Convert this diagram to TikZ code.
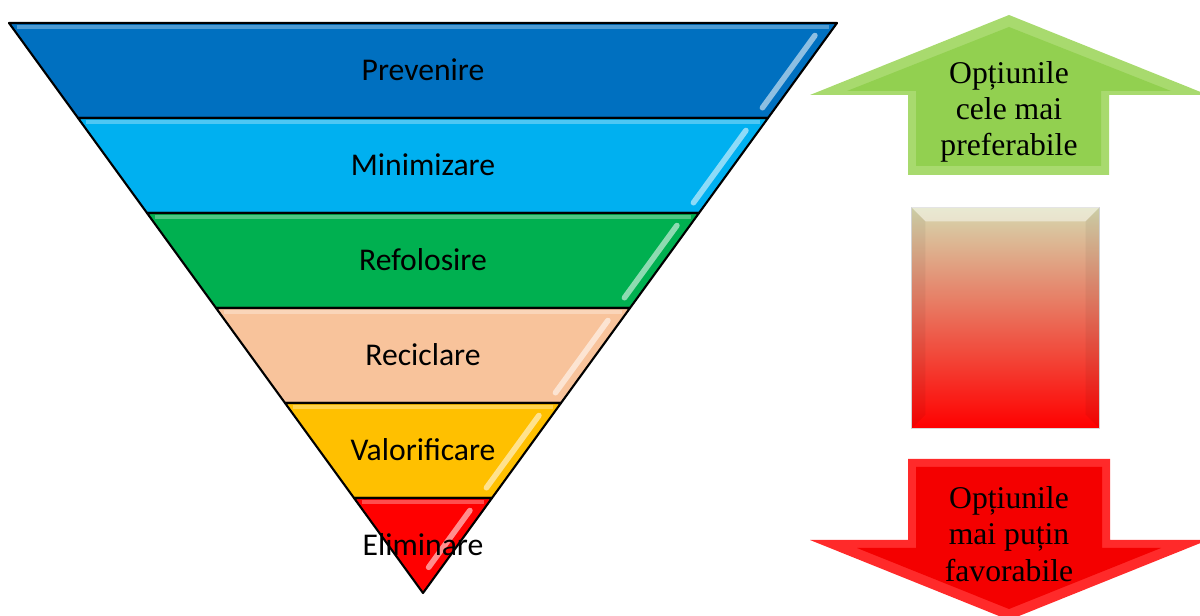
\documentclass[tikz,border=0pt]{standalone}
\usepackage{fontspec}
\setmainfont{Liberation Serif}
\newfontfamily\bandfont{Carlito}
\usetikzlibrary{calc}

\definecolor{prevcol}{HTML}{0070C0}
\definecolor{mincol}{HTML}{00B0F0}
\definecolor{refcol}{HTML}{00B050}
\definecolor{reccol}{HTML}{F8C39B}
\definecolor{valcol}{HTML}{FFC000}
\definecolor{elimcol}{HTML}{FF0000}
\definecolor{upface}{HTML}{92D050}
\definecolor{upedge}{HTML}{A8DA6E}
\definecolor{downface}{HTML}{F40000}
\definecolor{downedge}{HTML}{FF2A2A}
\definecolor{scaletop}{HTML}{D6D8AE}
\definecolor{scalemid}{HTML}{C8896A}

\tikzset{
  band/.style={draw=black, line width=0.6pt, line join=round},
  gloss/.style={line width=1.6pt, line cap=round, opacity=0.85},
  sheen/.style={draw=white, line width=1pt, opacity=0.3},
  bandlabel/.style={font=\bandfont\fontsize{9}{11}\selectfont, anchor=base},
  choice/.style={font=\fontsize{9}{10.3}\selectfont, align=center, inner sep=0pt},
  scalebox/.style={minimum width=1.87cm, minimum height=2.2cm, inner sep=0pt,
    draw=black!15, line width=0.3pt,
    top color=scaletop, middle color=scalemid, bottom color=red}
}

\begin{document}
\begin{tikzpicture}[x=0.01cm, y=-0.01cm]
  \useasboundingbox (0,0) rectangle (1200,616);
  \coordinate (TL) at (9,23);
  \coordinate (TR) at (837,23);
  \coordinate (A) at (423,593);
  % hierarchy bands, top to bottom
  \foreach \txt/\col [count=\k from 0] in {Prevenire/prevcol, Minimizare/mincol,
      Refolosire/refcol, Reciclare/reccol, Valorificare/valcol, Eliminare/elimcol} {
    \pgfmathsetmacro\ta{\k/6}
    \pgfmathsetmacro\tb{(\k+1)/6}
    \pgfmathsetmacro\tgs{\ta+0.022}
    \pgfmathsetmacro\tge{\k<5 ? \tb-0.018 : 0.955}
    \pgfmathsetmacro\tsh{\ta+0.007}
    \pgfmathsetmacro\ly{23+95*(\k+0.5)+10}
    \draw[band, fill=\col] ($(TL)!\ta!(A)$) -- ($(TR)!\ta!(A)$)
      -- ($(TR)!\tb!(A)$) -- ($(TL)!\tb!(A)$) -- cycle;
    \draw[sheen] ($(TL)!\tsh!(A) + (5,0)$) -- ($(TR)!\tsh!(A) + (-5,0)$);
    \draw[gloss, draw=\col!35!white] ($(TR)!\tgs!(A) + (-13,0)$)
      -- ($(TR)!\tge!(A) + (-13,0)$);
    \node[bandlabel] (band\k) at (423,\ly) {\txt};
  }
  % up arrow
  \fill[upedge] (1009,15) -- (1208,95) -- (1109,95) -- (1109,175)
    -- (908,175) -- (908,95) -- (810,95) -- cycle;
  \fill[upface] (1009,27) -- (1171,91) -- (1101,91) -- (1101,166)
    -- (916,166) -- (916,91) -- (847,91) -- cycle;
  \node[choice] (best) at (1009,112) {Opțiunile\\cele mai\\preferabile};
  % colour scale
  \node[scalebox] (scale) at (1005.5,318) {};
  \fill[white, opacity=0.45] (scale.north west) -- (scale.north east)
    -- ++(-14,14) -- ($(scale.north west) + (14,14)$) -- cycle;
  \fill[black, opacity=0.05] (scale.north west) -- ($(scale.north west) + (14,14)$)
    -- ($(scale.south west) + (14,-14)$) -- (scale.south west) -- cycle;
  \fill[black, opacity=0.05] (scale.north east) -- ($(scale.north east) + (-14,14)$)
    -- ($(scale.south east) + (-14,-14)$) -- (scale.south east) -- cycle;
  % down arrow
  \fill[downedge] (908,459) -- (1110,459) -- (1110,540) -- (1208,540)
    -- (1009,620) -- (810,540) -- (908,540) -- cycle;
  \fill[downface] (916,467) -- (1102,467) -- (1102,548) -- (1161,548)
    -- (1009,609) -- (857,548) -- (916,548) -- cycle;
  \node[choice] (worst) at (1009,534) {Opțiunile\\mai puțin\\favorabile};
\end{tikzpicture}
\end{document}
